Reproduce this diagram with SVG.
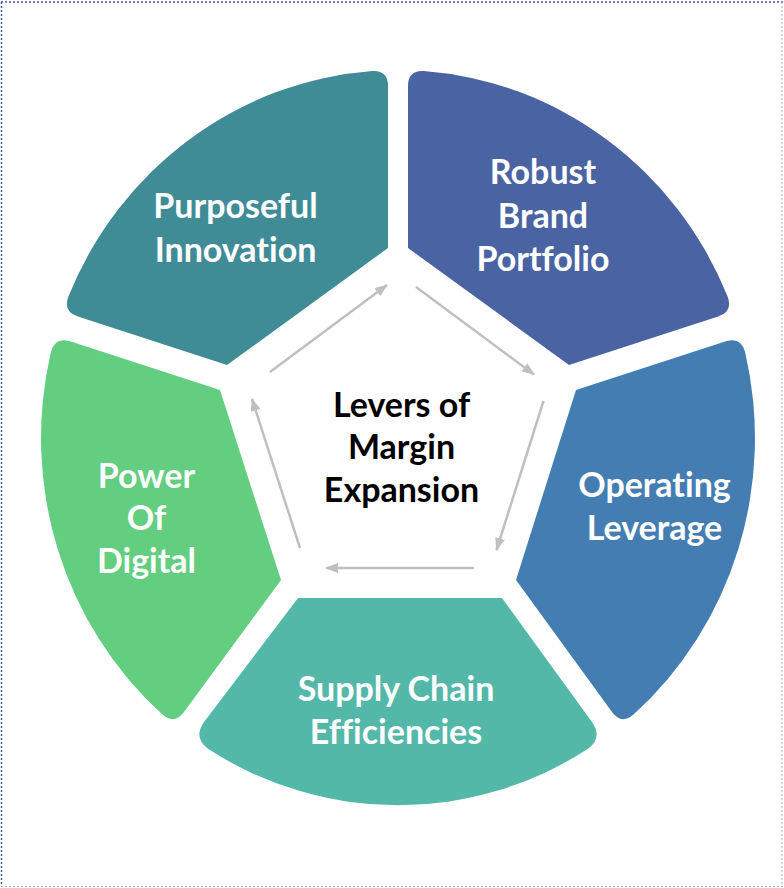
<svg xmlns="http://www.w3.org/2000/svg" width="784" height="888" viewBox="0 0 784 888">
  <defs>
    <marker id="ah" markerWidth="13" markerHeight="10" refX="12" refY="5" orient="auto" markerUnits="userSpaceOnUse">
      <path d="M0,0 L13,5 L0,10 Z" fill="#BFBFBF"/>
    </marker>
  </defs>
  <style>
    .lbl { font-family: Lato, "Open Sans", "Liberation Sans", sans-serif; font-weight: bold; font-size: 34px; fill: #FFFFFF; text-anchor: middle; font-variant-ligatures: none; font-feature-settings: "liga" 0, "clig" 0; }
    .ctr { font-family: Lato, "Open Sans", "Liberation Sans", sans-serif; font-weight: bold; font-size: 34px; fill: #000000; text-anchor: middle; font-variant-ligatures: none; font-feature-settings: "liga" 0, "clig" 0; }
    .conn { stroke: #BFBFBF; stroke-width: 2.5; fill: none; marker-end: url(#ah); }
  </style>
  <rect x="0" y="0" width="784" height="888" fill="#FFFFFF"/>
  <g id="frame">
    <line x1="1" y1="2" x2="783" y2="2" stroke="#3E5F96" stroke-width="1.5" stroke-dasharray="2 2"/>
    <line x1="1.5" y1="2" x2="1.5" y2="886" stroke="#3E5F96" stroke-width="1.5" stroke-dasharray="2 2"/>
    <line x1="782" y1="2" x2="782" y2="886" stroke="#A9B0BE" stroke-width="1" stroke-dasharray="2 2"/>
    <line x1="1" y1="886.5" x2="783" y2="886.5" stroke="#A9B0BE" stroke-width="1" stroke-dasharray="2 2"/>
  </g>

  <g id="purposeful-innovation">
    <path d="M388,248 L227,365 L77.9,316.5 Q62.7,311.6 68.4,296.5 A357,368 0 0 1 372.3,71 Q388,70.1 388,86.1 Z" fill="#3F8C97"/>
    <text class="lbl" x="235.5" y="218">Purposeful</text>
    <text class="lbl" x="235.5" y="262">Innovation</text>
  </g>

  <g id="robust-brand-portfolio">
    <path d="M408,248 L569,365 L718.1,316.5 Q733.3,311.6 727.6,296.5 A357,368 0 0 0 423.7,71 Q408,70.1 408,86.1 Z" fill="#4A63A2"/>
    <text class="lbl" x="543" y="183.5">Robust</text>
    <text class="lbl" x="543" y="227.5">Brand</text>
    <text class="lbl" x="543" y="270.5">Portfolio</text>
  </g>

  <g id="operating-leverage">
    <path d="M576,390 L725.9,341.3 Q741.1,336.4 745.1,352.1 A357,368 0 0 1 633.5,714.6 Q621.4,725 612,712.1 L516,580 Z" fill="#437DB2"/>
    <text class="lbl" x="654.5" y="497">Operating</text>
    <text class="lbl" x="654.5" y="540">Leverage</text>
  </g>

  <g id="supply-chain-efficiencies">
    <path d="M298,598 L502,598 L592,722 Q603,738 588,748.8 A357,368 0 0 1 208,748.8 Q193,738 204,722 Z" fill="#53B8A8"/>
    <text class="lbl" x="396" y="701">Supply Chain</text>
    <text class="lbl" x="396" y="743.5">Efficiencies</text>
  </g>

  <g id="power-of-digital">
    <path d="M220,390 L70.1,341.3 Q54.9,336.4 50.9,352.1 A357,368 0 0 0 162.5,714.6 Q174.6,725 184,712.1 L281,580 Z" fill="#63CD80"/>
    <text class="lbl" x="146.5" y="487.5">Power</text>
    <text class="lbl" x="146.5" y="530">Of</text>
    <text class="lbl" x="146.5" y="573">Digital</text>
  </g>

  <g id="center">
    <text class="ctr" x="401.5" y="417">Levers of</text>
    <text class="ctr" x="401.5" y="458.5">Margin</text>
    <text class="ctr" x="401.5" y="502">Expansion</text>
  </g>

  <g id="connectors">
    <line class="conn" x1="270" y1="372" x2="387" y2="285"/>
    <line class="conn" x1="416" y1="287" x2="534" y2="374.5"/>
    <line class="conn" x1="543.5" y1="401" x2="496.5" y2="550"/>
    <line class="conn" x1="474" y1="568" x2="326" y2="568"/>
    <line class="conn" x1="300" y1="548" x2="252" y2="399"/>
  </g>
</svg>
